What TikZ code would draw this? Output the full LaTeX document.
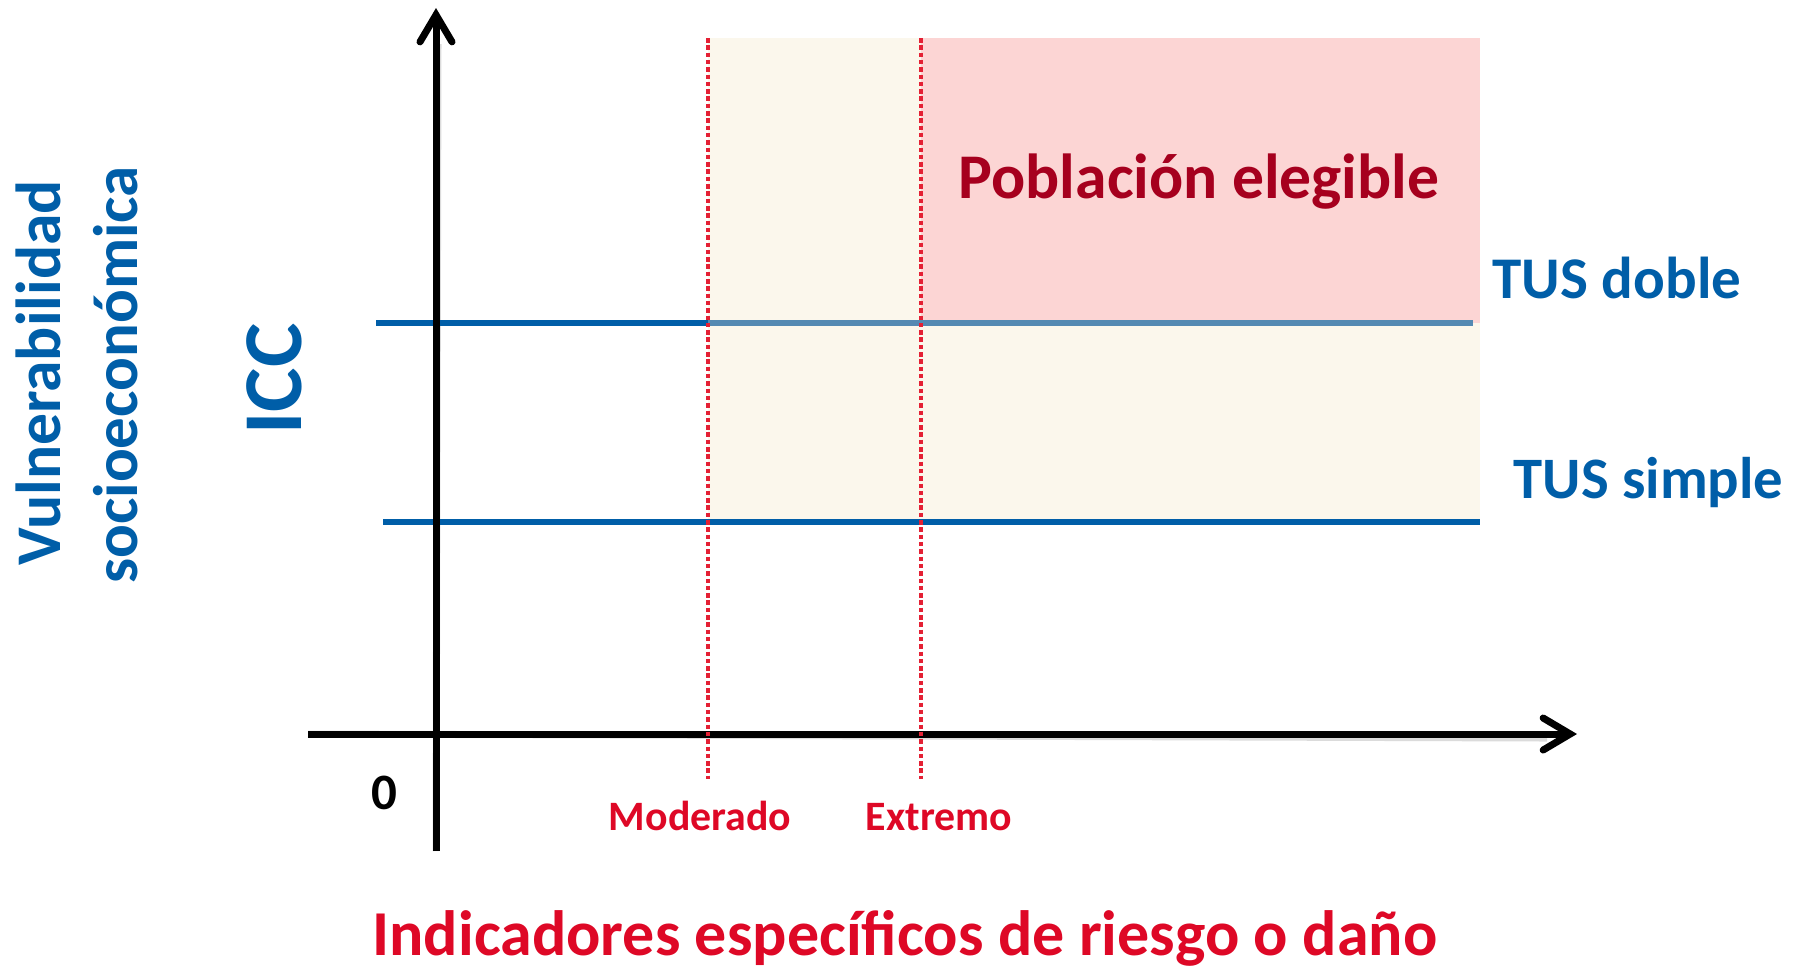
\documentclass[tikz,border=0pt]{standalone}
\usepackage{fontspec}
\setmainfont{Carlito}
\usetikzlibrary{arrows.meta}
\definecolor{tblue}{RGB}{0,94,168}
\definecolor{tblueL}{RGB}{84,137,178}
\definecolor{tred}{RGB}{222,8,38}
\definecolor{tdred}{RGB}{166,0,30}
\definecolor{beigebg}{RGB}{251,247,236}
\definecolor{pinkbg}{RGB}{252,213,212}
\definecolor{dotred}{RGB}{228,32,52}
\begin{document}
\begin{tikzpicture}[x=0.01cm,y=-0.01cm,
  axisline/.style={line width=0.07cm,-{Straight Barb[length=0.27cm,width=0.32cm,line cap=round]}},
  shadowline/.style={line width=0.07cm,black!14,shift={(2,4)}},
  tusline/.style={line width=0.055cm},
  thresh/.style={line width=0.038cm,dotred,dash pattern=on 0.045cm off 0.028cm},
  lbl/.style={inner sep=0pt,font=\bfseries},
  rlbl/.style={lbl,rotate=90,anchor=base,text=tblue}]
\useasboundingbox (0,0) rectangle (1798,966);
% regions
\fill[beigebg] (708,38) rectangle (1480,522);
\fill[pinkbg] (921,38) rectangle (1480,323);
% coordinates
\coordinate (yb) at (436,851);
\coordinate (yt) at (436,8);
\coordinate (xl) at (308,734);
\coordinate (xr) at (1577,734);
\coordinate (m1) at (708,38);
\coordinate (m2) at (708,779);
\coordinate (e1) at (921,38);
\coordinate (e2) at (921,779);
\coordinate (d1) at (376,323);
\coordinate (dm) at (708,323);
\coordinate (d2) at (1473,323);
\coordinate (s1) at (383,522);
\coordinate (s2) at (1480,522);
% shadows
\draw[tusline,black!12,shift={(2,4)}] (d1) -- (d2);
\draw[tusline,black!12,shift={(2,4)}] (s1) -- (s2);
\draw[shadowline] (yb) -- (436,40);
\draw[shadowline] (xl) -- (1545,734);
% TUS lines
\draw[tusline,tblue] (d1) -- (dm);
\draw[tusline,tblueL] (dm) -- (d2);
\draw[tusline,tblue] (s1) -- (s2);
% axes
\draw[axisline] (yb) -- (yt);
\draw[axisline] (xl) -- (xr);
% thresholds
\draw[thresh] (m1) -- (m2);
\draw[thresh] (e1) -- (e2);
% texts
\node[lbl,anchor=base,text=tdred,font=\bfseries\fontsize{18.1}{22}\selectfont] (pob) at (1199,198) {Población elegible};
\node[lbl,anchor=base west,text=tblue,font=\bfseries\fontsize{16.8}{20}\selectfont] (tusd) at (1492,298) {TUS doble};
\node[lbl,anchor=base west,text=tblue,font=\bfseries\fontsize{16.7}{20}\selectfont] (tuss) at (1513,498) {TUS simple};
\node[lbl,anchor=base,text=tred,font=\bfseries\fontsize{11.9}{14}\selectfont] (mod) at (700,830) {Moderado};
\node[lbl,anchor=base,text=tred,font=\bfseries\fontsize{11.9}{14}\selectfont] (ext) at (939,830) {Extremo};
\node[lbl,anchor=base,text=black,font=\bfseries\fontsize{14.5}{17}\selectfont] (zero) at (384,809) {0};
\node[lbl,anchor=base,text=tred,font=\bfseries\fontsize{18.2}{22}\selectfont] (xlab) at (905,955) {Indicadores específicos de riesgo o daño};
\node[rlbl,font=\bfseries\fontsize{23.8}{28}\selectfont] (icc) at (301,379) {ICC};
\node[rlbl,font=\bfseries\fontsize{18.1}{21}\selectfont] (vul) at (60,373) {Vulnerabilidad};
\node[rlbl,font=\bfseries\fontsize{17.9}{21}\selectfont] (soc) at (137,375) {socioeconómica};
\end{tikzpicture}
\end{document}
